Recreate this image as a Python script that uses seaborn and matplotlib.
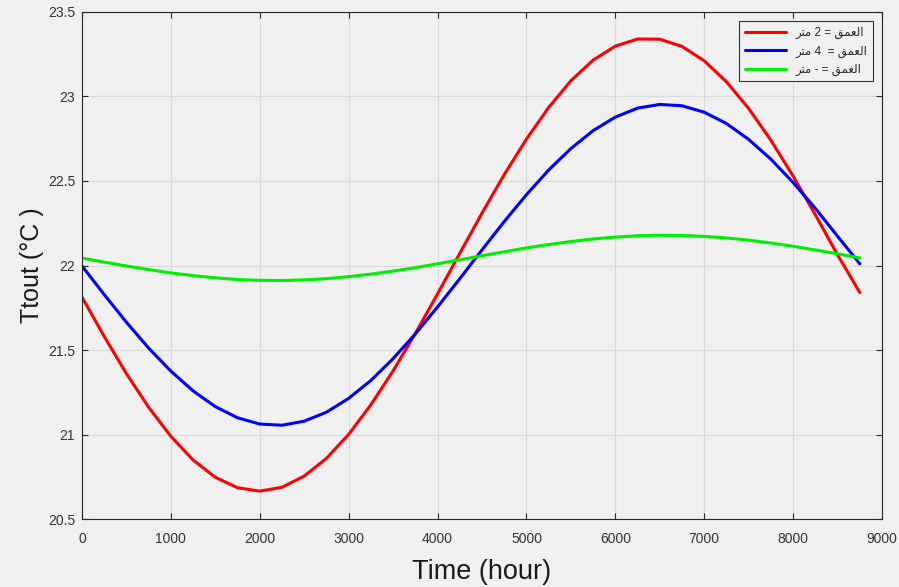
import numpy as np
import pandas as pd
import matplotlib
matplotlib.use("Agg")
import matplotlib.pyplot as plt
import seaborn as sns

# values, every 250 hours
hours = [0, 250, 500, 750, 1000, 1250, 1500, 1750, 2000, 2250, 2500, 2750,
         3000, 3250, 3500, 3750, 4000, 4250, 4500, 4750, 5000, 5250, 5500, 5750,
         6000, 6250, 6500, 6750, 7000, 7250, 7500, 7750, 8000, 8250, 8500, 8750]

t_depth2 = [21.813, 21.580, 21.360, 21.161, 20.989, 20.849, 20.747, 20.685,
            20.665, 20.688, 20.754, 20.859, 21.001, 21.176, 21.377, 21.598,
            21.832, 22.072, 22.310, 22.538, 22.748, 22.935, 23.093, 23.215,
            23.298, 23.340, 23.339, 23.296, 23.211, 23.087, 22.929, 22.741,
            22.529, 22.300, 22.063, 21.840]

t_depth4 = [21.997, 21.828, 21.664, 21.511, 21.375, 21.258, 21.165, 21.099,
            21.062, 21.055, 21.079, 21.132, 21.214, 21.320, 21.449, 21.595,
            21.755, 21.922, 22.092, 22.260, 22.419, 22.565, 22.692, 22.798,
            22.878, 22.931, 22.953, 22.945, 22.907, 22.840, 22.746, 22.629,
            22.491, 22.338, 22.173, 22.010]

t_depth_x = [22.044, 22.020, 21.997, 21.976, 21.956, 21.940, 21.927, 21.917,
             21.912, 21.911, 21.915, 21.922, 21.934, 21.949, 21.967, 21.987,
             22.010, 22.034, 22.058, 22.081, 22.104, 22.124, 22.142, 22.157,
             22.168, 22.176, 22.179, 22.178, 22.172, 22.163, 22.150, 22.133,
             22.114, 22.092, 22.069, 22.045]

# Arabic labels written in visual order with presentation forms
labels = ["ﺮﺘﻣ 2 = ﻖﻤﻌﻟﺍ", "ﺮﺘﻣ 4  = ﻖﻤﻌﻟﺍ", "ﺮﺘﻣ - = ﻖﻤﻌﻟﺍ"]
colors = ["#ff0000", "#0000ff", "#00ee00"]

df = pd.concat([
    pd.DataFrame({"hour": hours, "Ttout": t_depth2, "depth": labels[0]}),
    pd.DataFrame({"hour": hours, "Ttout": t_depth4, "depth": labels[1]}),
    pd.DataFrame({"hour": hours, "Ttout": t_depth_x, "depth": labels[2]}),
])

sns.set_style("whitegrid")
plt.rcParams["font.family"] = ["Liberation Sans", "DejaVu Sans"]

bg = "#f0f0f0"
fig = plt.figure(figsize=(8.99, 5.87), dpi=100, facecolor=bg)
ax = fig.add_axes([0.0912, 0.1158, 0.8899, 0.8638])
ax.set_facecolor(bg)

sns.lineplot(data=df, x="hour", y="Ttout", hue="depth", hue_order=labels,
             palette=dict(zip(labels, colors)), linewidth=2.2, ax=ax)

ax.set_xlim(0, 9000)
ax.set_ylim(20.5, 23.5)
ax.set_xticks(np.arange(0, 9001, 1000))
ax.set_yticks([20.5, 21, 21.5, 22, 22.5, 23, 23.5])
ax.set_yticklabels(["20.5", "21", "21.5", "22", "22.5", "23", "23.5"])

ax.grid(True, color="#d9d9d9", linewidth=0.8)
for s in ax.spines.values():
    s.set_visible(True)
    s.set_color("#262626")
    s.set_linewidth(0.8)
ax.tick_params(direction="in", length=4, width=0.8, color="#262626",
               labelsize=10, labelcolor="#333333", top=True, right=True,
               bottom=True, left=True)
ax.tick_params(axis="x", pad=9)
ax.tick_params(axis="y", pad=5)

ax.set_xlabel("Time (hour)", fontsize=19.5, color="#1a1a1a", labelpad=10)
ax.set_ylabel("Ttout (°C )", fontsize=18, color="#1a1a1a", labelpad=3)

leg = ax.legend(loc="upper right", fontsize=8.5, frameon=True, fancybox=False,
                edgecolor="#333333", facecolor="#f0f0f0", framealpha=1,
                handlelength=3.5, borderaxespad=0.8, labelspacing=0.55,
                borderpad=0.45)
leg.get_frame().set_linewidth(0.8)
for line in leg.get_lines():
    line.set_linewidth(2.2)

fig.savefig("out.png", dpi=100, facecolor=bg)
